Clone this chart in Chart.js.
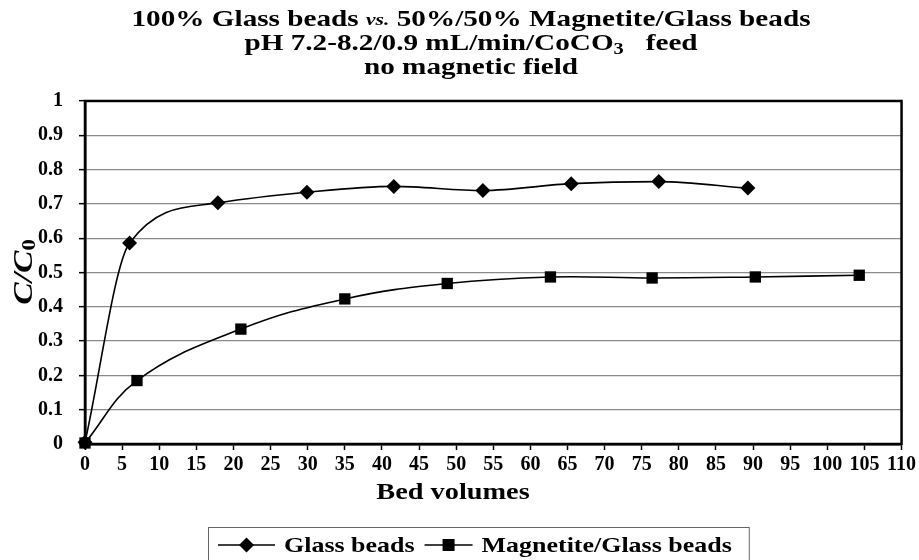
<!DOCTYPE html>
<html><head><meta charset="utf-8">
<script src="https://cdn.jsdelivr.net/npm/chart.js@4.4.1/dist/chart.umd.min.js"></script>
<style>html,body{margin:0;padding:0;background:#fff;}#wrap{width:919px;height:560px;position:relative;}</style>
</head><body><div id="wrap"><canvas id="c"></canvas></div>
<script>
// ---- data ----
const titleLine1 = ['100% Glass beads ', 'vs.', ' 50%/50% Magnetite/Glass beads'];
const titleLine2 = ['pH 7.2-8.2/0.9 mL/min/CoCO', '3', '   feed'];
const titleLine3 = 'no magnetic field';
const seriesNames = ['Glass beads', 'Magnetite/Glass beads'];
const glassX = [0, 6, 17.9, 29.9, 41.6, 53.6, 65.5, 77.3, 89.3];
const glassY = [0.005, 0.586, 0.703, 0.734, 0.751, 0.739, 0.759, 0.765, 0.746];
const magX = [0, 7, 21, 35, 48.8, 62.7, 76.4, 90.3, 104.3];
const magY = [0.003, 0.185, 0.335, 0.423, 0.468, 0.487, 0.484, 0.487, 0.492];
const xTitle = 'Bed volumes';
const yTitle = ['C/C', '0'];
const xMin = 0, xMax = 110, xStep = 5;
const yMin = 0, yMax = 1, yStep = 0.1;

const SERIF = "'Liberation Serif', 'Times New Roman', serif";

function toPts(xs, ys){ return xs.map((x,i)=>({x:x, y:ys[i]})); }

function drawParts(ctx, parts, cx, cy, sx){
  let total = 0;
  parts.forEach(p=>{ ctx.font = p.font; p.w = ctx.measureText(p.text).width; total += p.w; });
  ctx.save();
  ctx.translate(cx, cy);
  ctx.scale(sx, 1);
  let x = -total/2;
  ctx.textBaseline = 'middle';
  ctx.textAlign = 'left';
  ctx.fillStyle = '#000';
  parts.forEach(p=>{ ctx.font = p.font; ctx.fillText(p.text, x, p.dy||0); x += p.w; });
  ctx.restore();
  return total*sx;
}

const customText = {
  id: 'customText',
  beforeDatasetsDraw(chart){
    const ctx = chart.ctx, a = chart.chartArea;
    ctx.save();
    ctx.strokeStyle = '#000';
    ctx.lineWidth = 2.5;
    ctx.strokeRect(a.left, a.top, a.right - a.left, a.bottom - a.top);
    ctx.restore();
  },
  afterDraw(chart){
    const ctx = chart.ctx;
    const cx = 471, TS = 1.27;
    const b = 'bold 23px ' + SERIF, sub = 'bold 16px ' + SERIF;
    drawParts(ctx, [{text:titleLine1[0], font:b},{text:titleLine1[1], font:'italic bold 17px '+SERIF, dy:1},{text:titleLine1[2], font:b}], cx, 20, TS);
    drawParts(ctx, [{text:titleLine2[0], font:b},{text:titleLine2[1], font:sub, dy:6},{text:titleLine2[2], font:b}], cx, 44, TS);
    drawParts(ctx, [{text:titleLine3, font:b}], cx, 68, TS);
    // x title
    drawParts(ctx, [{text:xTitle, font:'bold 24px '+SERIF}], 453, 493, 1.18);
    // y title (rotated)
    ctx.save();
    ctx.translate(25, 272);
    ctx.rotate(-Math.PI/2);
    drawParts(ctx, [{text:yTitle[0], font:'italic bold 28px '+SERIF},{text:yTitle[1], font:'bold 19px '+SERIF, dy:5}], 0, 0, 1.2);
    ctx.restore();
    // legend
    const LS = 1.18;
    const lf = 'bold 22px ' + SERIF;
    ctx.save();
    ctx.font = lf;
    const items = chart.data.datasets.map((ds,i)=>({ds, w: ctx.measureText(ds.label).width}));
    const markW = [57, 48], gapMT = 9, gapItems = 10, padL = 10, padR = 17;
    let totalW = padL + padR;
    items.forEach((it,i)=>{ totalW += markW[i] + gapMT + it.w*LS + (i<items.length-1?gapItems:0); });
    const boxL = 208, boxT = 527, ly = 545;
    ctx.strokeStyle = '#666'; ctx.lineWidth = 1;
    ctx.strokeRect(boxL + 0.5, boxT + 0.5, totalW, 60);
    let x = boxL + padL;
    items.forEach((it,i)=>{
      ctx.strokeStyle = '#000'; ctx.lineWidth = 1.6;
      ctx.beginPath(); ctx.moveTo(x, ly); ctx.lineTo(x+markW[i], ly); ctx.stroke();
      ctx.fillStyle = '#000';
      const mx = x + markW[i]/2;
      ctx.beginPath();
      if (it.ds.pointStyle === 'rectRot') {
        ctx.moveTo(mx, ly-7.5); ctx.lineTo(mx+7.5, ly); ctx.lineTo(mx, ly+7.5); ctx.lineTo(mx-7.5, ly); ctx.closePath();
      } else {
        ctx.rect(mx-6, ly-6, 12, 12);
      }
      ctx.fill();
      x += markW[i] + gapMT;
      ctx.save(); ctx.translate(x, ly); ctx.scale(LS,1);
      ctx.font = lf; ctx.textBaseline='middle'; ctx.textAlign='left'; ctx.fillStyle='#000';
      ctx.fillText(it.ds.label, 0, 1);
      ctx.restore();
      x += it.w*LS + gapItems;
    });
    ctx.restore();
  }
};

const commonDs = {showLine:true, borderColor:'#000', backgroundColor:'#000', borderWidth:1.6,
  pointBackgroundColor:'#000', pointBorderColor:'#000', pointBorderWidth:0, clip:false};

new Chart(document.getElementById('c'), {
  type: 'scatter',
  data: {
    datasets: [
      Object.assign({label: seriesNames[0], data: toPts(glassX, glassY), pointStyle:'rectRot', pointRadius:7.5, pointHoverRadius:7.5, cubicInterpolationMode:'monotone'}, commonDs),
      Object.assign({label: seriesNames[1], data: toPts(magX, magY), pointStyle:'rect', pointRadius:8, pointHoverRadius:8, tension:0.4}, commonDs)
    ]
  },
  options: {
    responsive: true, maintainAspectRatio: false, animation: false,
    layout: {padding: {top: 101, right: 16, left: 0, bottom: 55}},
    plugins: {legend: {display:false}, title:{display:false}, tooltip:{enabled:false}},
    scales: {
      x: {type:'linear', min:xMin, max:xMax,
        afterFit(s){ s.height = 61; },
        ticks:{stepSize:xStep, autoSkip:false, maxRotation:0, color:'#000', padding:3, font:{family:SERIF, weight:'bold', size:20}},
        grid:{drawOnChartArea:false, drawTicks:true, tickLength:6, tickColor:'#000', tickWidth:1.5},
        border:{color:'#000', width:2.5}},
      y: {min:yMin, max:yMax,
        afterFit(s){ s.width = 85; },
        ticks:{stepSize:yStep, color:'#000', padding:16, font:{family:SERIF, weight:'bold', size:20},
          callback:(v)=> Math.round(v*10)/10 + ''},
        grid:{color:'#8a8a8a', lineWidth:1.3, drawTicks:true, tickLength:6, tickColor:'#000', tickWidth:1.5},
        border:{color:'#000', width:2.5}}
    }
  },
  plugins: [customText]
});
</script>
</body></html>
